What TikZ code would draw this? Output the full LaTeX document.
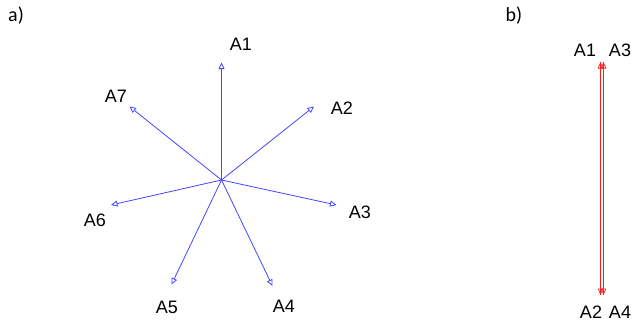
\documentclass[tikz,border=0pt]{standalone}
\usepackage{fontspec}
\setmainfont{Liberation Sans}
\newfontfamily\panelfont{Carlito}
\usetikzlibrary{arrows.meta}
\definecolor{vecblue}{RGB}{70,70,255}
\definecolor{vecred}{RGB}{255,30,30}
\begin{document}
\begin{tikzpicture}[x=1pt,y=-1pt,
  lbl/.style={font=\fontsize{18}{20}\selectfont, inner sep=0pt},
  panel/.style={font=\panelfont\fontsize{20}{22}\selectfont, inner sep=0pt},
  bvec/.style={draw=vecblue, line width=0.8pt, -{Triangle[open, length=6.5pt, width=6pt]}},
  rvec/.style={draw=vecred, line width=0.7pt, -{Triangle[open, length=6.5pt, width=5.5pt]}}]
\useasboundingbox (0,0) rectangle (633,325);
\node[panel] (pa) at (16,16) {a)};
\node[panel] (pb) at (514,16) {b)};
% panel a
\coordinate (O) at (221.5,180);
\coordinate (t1) at (221.5,62.5);
\coordinate (t2) at (314,106.5);
\coordinate (t3) at (336.5,205);
\coordinate (t4) at (272.5,286);
\coordinate (t5) at (171.5,284.5);
\coordinate (t6) at (111,205);
\coordinate (t7) at (129.5,106.5);
\foreach \i in {1,...,7} \draw[bvec] (O) -- (t\i);
\fill[vecblue] (O) circle (1.2pt);
\node[lbl] (l1) at (241,44) {A1};
\node[lbl] (l2) at (342,108) {A2};
\node[lbl] (l3) at (360,212) {A3};
\node[lbl] (l4) at (284,306) {A4};
\node[lbl] (l5) at (167,307) {A5};
\node[lbl] (l6) at (95,220) {A6};
\node[lbl] (l7) at (116,96) {A7};
% panel b
\coordinate (b1s) at (600.5,295);
\coordinate (b1e) at (600.5,62);
\coordinate (b2s) at (603.5,295);
\coordinate (b2e) at (603.5,62);
\coordinate (b3s) at (600.5,62);
\coordinate (b3e) at (600.5,295);
\coordinate (b4s) at (603.5,62);
\coordinate (b4e) at (603.5,295);
\draw[rvec] (b1s) -- (b1e);
\draw[rvec] (b2s) -- (b2e);
\draw[rvec] (b3s) -- (b3e);
\draw[rvec] (b4s) -- (b4e);
\node[lbl] (r1) at (585,50) {A1};
\node[lbl] (r3) at (620,50) {A3};
\node[lbl] (r2) at (591,312) {A2};
\node[lbl] (r4) at (620,312) {A4};
\end{tikzpicture}
\end{document}
